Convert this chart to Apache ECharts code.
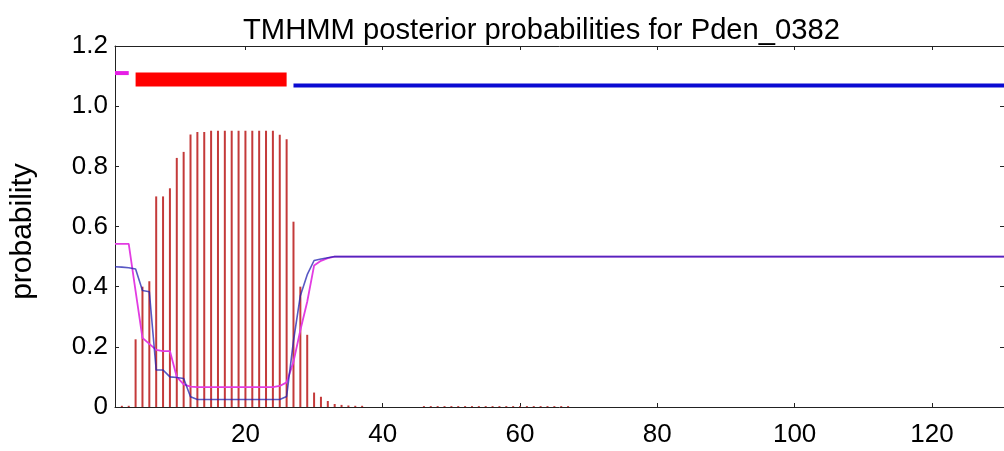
<!DOCTYPE html>
<html>
<head>
<meta charset="utf-8">
<script src="https://cdn.jsdelivr.net/npm/echarts@6/dist/echarts.min.js"></script>
<style>
html,body{margin:0;padding:0;background:#fff;}
#c{width:1004px;height:451px;}
</style>
</head>
<body>
<div id="c"></div>
<script>
// ---- data ----
const titleText = 'TMHMM posterior probabilities for Pden_0382';
const yName = 'probability';
const xTicks = [20, 40, 60, 80, 100, 120];
const xMin = 1;
const xMax = 130.5;

// transmembrane probability per residue (residues 1..67; later residues are 0)
const tmProb = [
  0, 0.004, 0.004, 0.225, 0.40, 0.418, 0.70, 0.70, 0.727, 0.828,
  0.848, 0.906, 0.914, 0.914, 0.918, 0.918, 0.918, 0.918, 0.918, 0.918,
  0.918, 0.918, 0.918, 0.918, 0.905, 0.89, 0.616, 0.40, 0.24, 0.048,
  0.034, 0.02, 0.01, 0.007, 0.005, 0.004, 0.004, 0, 0, 0,
  0, 0, 0, 0, 0, 0.003, 0.003, 0.003, 0.003, 0.003,
  0.003, 0.003, 0.003, 0.003, 0.003, 0.003, 0.003, 0.003, 0.003, 0.003,
  0.003, 0.003, 0.003, 0.003, 0.003, 0.003, 0.003
];

// residues at which the inside / outside curves are sampled
const lineResidues = [
  1, 2, 3, 4, 5, 6, 7, 8, 9, 10,
  11, 12, 13, 14, 15, 16, 17, 18, 19, 20,
  21, 22, 23, 24, 25, 26, 27, 28, 29, 30,
  31, 32, 33, 130.5
];
const insideProb = [
  0.466, 0.465, 0.463, 0.459, 0.387, 0.383, 0.123, 0.123, 0.10, 0.098,
  0.095, 0.034, 0.025, 0.025, 0.025, 0.025, 0.025, 0.025, 0.025, 0.025,
  0.025, 0.025, 0.025, 0.025, 0.025, 0.035, 0.22, 0.37, 0.44, 0.487,
  0.492, 0.496, 0.5, 0.5
];
const outsideProb = [
  0.542, 0.542, 0.542, 0.385, 0.23, 0.21, 0.19, 0.186, 0.186, 0.10,
  0.075, 0.068, 0.066, 0.066, 0.066, 0.066, 0.066, 0.066, 0.066, 0.066,
  0.066, 0.066, 0.066, 0.066, 0.07, 0.082, 0.15, 0.255, 0.35, 0.47,
  0.486, 0.495, 0.5, 0.5
];

// predicted topology segments [start, end] and the level they are drawn at
const outsideSeg = [1, 3];
const tmSeg = [4, 26];
const insideSeg = [27, 130.5];
const outsideLevel = 1.11;
const tmLevel = 1.089;
const insideLevel = 1.069;

// ---- chart ----
const FONT = 'Liberation Sans, Arial, Helvetica, sans-serif';
const chart = echarts.init(document.getElementById('c'), null, {renderer: 'canvas'});

const axisLineStyle = {color: '#222', width: 1};
const fmtY = v => (Math.abs(v) < 1e-9 ? '0' : v.toFixed(1));

const option = {
  animation: false,
  backgroundColor: '#fff',
  title: {
    text: titleText,
    left: 238,
    top: 11,
    textStyle: {fontFamily: FONT, fontSize: 29.2, fontWeight: 'normal', color: '#000'}
  },
  grid: {left: 115, right: -1, top: 46, bottom: 44, containLabel: false},
  xAxis: [
    {
      type: 'value', min: xMin, max: xMax, position: 'bottom',
      axisLine: {show: true, onZero: false, lineStyle: axisLineStyle},
      axisTick: {show: true, inside: true, length: 4, customValues: xTicks, lineStyle: axisLineStyle},
      axisLabel: {show: true, customValues: xTicks, fontSize: 26, margin: 15, color: '#000', fontFamily: FONT},
      splitLine: {show: false}
    },
    {
      type: 'value', min: xMin, max: xMax, position: 'top',
      axisLine: {show: true, onZero: false, lineStyle: axisLineStyle},
      axisTick: {show: true, inside: true, length: 4, customValues: xTicks, lineStyle: axisLineStyle},
      axisLabel: {show: false},
      splitLine: {show: false}
    }
  ],
  yAxis: [
    {
      type: 'value', min: 0, max: 1.2, interval: 0.2, position: 'left',
      name: yName, nameLocation: 'middle', nameGap: 77,
      nameTextStyle: {fontSize: 30, color: '#000', fontFamily: FONT, padding: [0, 10, 0, 0]},
      axisLine: {show: true, onZero: false, lineStyle: axisLineStyle},
      axisTick: {show: true, inside: true, length: 4, lineStyle: axisLineStyle},
      axisLabel: {show: true, formatter: fmtY, fontSize: 26, margin: 7, color: '#000', fontFamily: FONT},
      splitLine: {show: false}
    },
    {
      type: 'value', min: 0, max: 1.2, interval: 0.2, position: 'right',
      axisLine: {show: true, onZero: false, lineStyle: axisLineStyle},
      axisTick: {show: true, inside: true, length: 4, lineStyle: axisLineStyle},
      axisLabel: {show: false},
      splitLine: {show: false}
    }
  ],
  series: [
    {
      name: 'transmembrane', type: 'bar', xAxisIndex: 0, yAxisIndex: 0,
      barWidth: 2,
      itemStyle: {color: '#c43a3a'},
      data: tmProb.map((v, i) => [i + 1, v]),
      z: 2
    },
    {
      name: 'outside', type: 'line', xAxisIndex: 0, yAxisIndex: 0,
      showSymbol: false, symbol: 'none',
      lineStyle: {color: '#e23ce2', width: 1.8},
      data: lineResidues.map((r, i) => [r, outsideProb[i]]),
      z: 3
    },
    {
      name: 'inside', type: 'line', xAxisIndex: 0, yAxisIndex: 0,
      showSymbol: false, symbol: 'none',
      lineStyle: {color: '#2020b0', width: 1.6, opacity: 0.75},
      data: lineResidues.map((r, i) => [r, insideProb[i]]),
      z: 4
    },
    {
      name: 'outsideSeg', type: 'line', xAxisIndex: 0, yAxisIndex: 0,
      showSymbol: false, symbol: 'none',
      lineStyle: {color: '#e61ee6', width: 4, cap: 'butt'},
      data: outsideSeg.map(r => [r, outsideLevel]),
      z: 5
    },
    {
      name: 'tmSeg', type: 'line', xAxisIndex: 0, yAxisIndex: 0,
      showSymbol: false, symbol: 'none',
      lineStyle: {color: '#ff0000', width: 14, cap: 'butt'},
      data: tmSeg.map(r => [r, tmLevel]),
      z: 5
    },
    {
      name: 'insideSeg', type: 'line', xAxisIndex: 0, yAxisIndex: 0,
      showSymbol: false, symbol: 'none',
      lineStyle: {color: '#0a0ad2', width: 4, cap: 'butt'},
      data: insideSeg.map(r => [r, insideLevel]),
      z: 5
    }
  ]
};
chart.setOption(option);
</script>
</body>
</html>
